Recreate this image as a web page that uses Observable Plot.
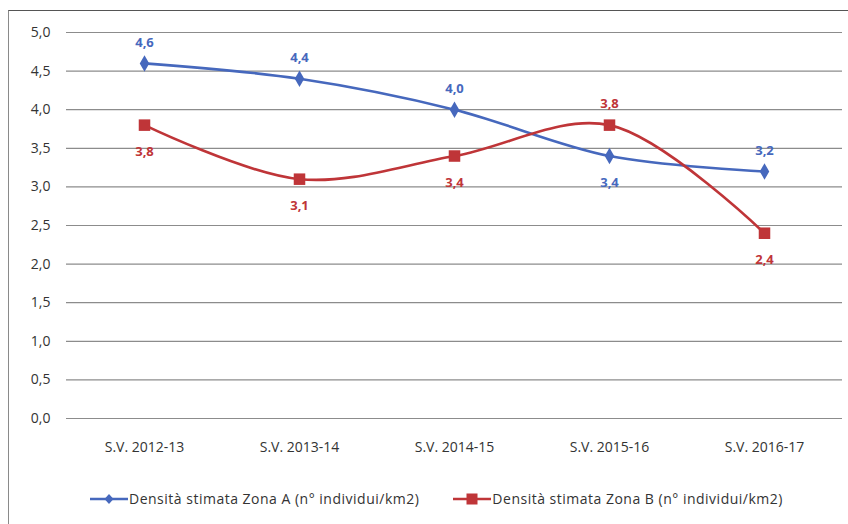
<!DOCTYPE html>
<html>
<head>
<meta charset="utf-8">
<script src="https://cdn.jsdelivr.net/npm/d3@7"></script>
<script src="https://cdn.jsdelivr.net/npm/@observablehq/plot@0.6"></script>
<style>
  html, body { margin: 0; padding: 0; background: #fff; }
  #wrap { position: relative; width: 848px; height: 524px; overflow: hidden; font-family: "Open Sans", Lato, sans-serif; }
  #frame { position: absolute; left: 8px; top: 10px; width: 845px; height: 530px; border-left: 1.5px solid #8a8a8a; border-top: 1.5px solid #555; box-sizing: border-box; }
  #chart { position: absolute; left: 0; top: 0; }
  #legend { position: absolute; top: 489px; left: 90px; display: flex; gap: 34px; font-size: 14px; letter-spacing: 0.5px; color: #333; white-space: nowrap; }
  .item { display: flex; align-items: center; gap: 1px; }
</style>
</head>
<body>
<div id="wrap">
  <div id="frame"></div>
  <div id="chart"></div>
  <div id="legend"></div>
</div>
<script>
const categories = ["S.V. 2012-13", "S.V. 2013-14", "S.V. 2014-15", "S.V. 2015-16", "S.V. 2016-17"];
const zonaA = [4.6, 4.4, 4.0, 3.4, 3.2];
const zonaB = [3.8, 3.1, 3.4, 3.8, 2.4];
const seriesNames = ["Densità stimata Zona A (n° individui/km2)", "Densità stimata Zona B (n° individui/km2)"];
const yTicks = [0, 0.5, 1, 1.5, 2, 2.5, 3, 3.5, 4, 4.5, 5];

const colorA = "#4668bd";
const colorB = "#bf3538";
const fmt = d => d.toFixed(1).replace(".", ",");

const rows = [];
categories.forEach((c, i) => {
  rows.push({cat: c, series: "A", value: zonaA[i], other: zonaB[i]});
  rows.push({cat: c, series: "B", value: zonaB[i], other: zonaA[i]});
});
const rowsA = rows.filter(d => d.series === "A");
const rowsB = rows.filter(d => d.series === "B");

const chart = Plot.plot({
  width: 848,
  height: 470,
  marginLeft: 66,
  marginRight: 6,
  marginTop: 32,
  marginBottom: 52,
  style: {fontFamily: "'Open Sans', Lato, sans-serif", fontSize: "14px", color: "#333", background: "transparent"},
  x: {type: "point", domain: categories, padding: 0.5, label: null},
  y: {domain: [0, 5], label: null},
  marks: [
    Plot.ruleY(yTicks, {stroke: "#8c8c8c", strokeWidth: 1.2}),
    Plot.axisY(yTicks, {tickSize: 0, tickPadding: 16, tickFormat: fmt, fontSize: 14, fill: "#333"}),
    Plot.axisX({tickSize: 0, tickPadding: 24, fontSize: 14, fill: "#333", style: {letterSpacing: "0.4px"}}),
    Plot.line(rowsA, {x: "cat", y: "value", stroke: colorA, strokeWidth: 2.6, curve: "catmull-rom"}),
    Plot.line(rowsB, {x: "cat", y: "value", stroke: colorB, strokeWidth: 2.6, curve: "catmull-rom"}),
    Plot.dot(rowsA, {x: "cat", y: "value", symbol: "diamond", r: 5, fill: colorA, stroke: "none"}),
    Plot.dot(rowsB, {x: "cat", y: "value", symbol: "square", r: 6.5, fill: colorB, stroke: "none"}),
    Plot.text(rows, {filter: d => d.value > d.other, x: "cat", y: "value", text: d => fmt(d.value), dy: -21,
      fill: d => d.series === "A" ? colorA : colorB, fontWeight: "bold", fontSize: 13}),
    Plot.text(rows, {filter: d => d.value <= d.other, x: "cat", y: "value", text: d => fmt(d.value), dy: 27,
      fill: d => d.series === "A" ? colorA : colorB, fontWeight: "bold", fontSize: 13})
  ]
});
document.getElementById("chart").appendChild(chart);

const legend = document.getElementById("legend");
const markers = [
  {color: colorA, shape: "diamond"},
  {color: colorB, shape: "square"}
];
seriesNames.forEach((name, i) => {
  const m = markers[i];
  const item = document.createElement("div");
  item.className = "item";
  const shape = m.shape === "diamond"
    ? `<path d="M19,4 L23.5,9 L19,14 L14.5,9 Z" fill="${m.color}"/>`
    : `<rect x="13.5" y="3.5" width="11" height="11" fill="${m.color}"/>`;
  item.innerHTML = `<svg width="38" height="18"><line x1="0" y1="9" x2="38" y2="9" stroke="${m.color}" stroke-width="2.5"/>${shape}</svg><span>${name}</span>`;
  legend.appendChild(item);
});
</script>
</body>
</html>
